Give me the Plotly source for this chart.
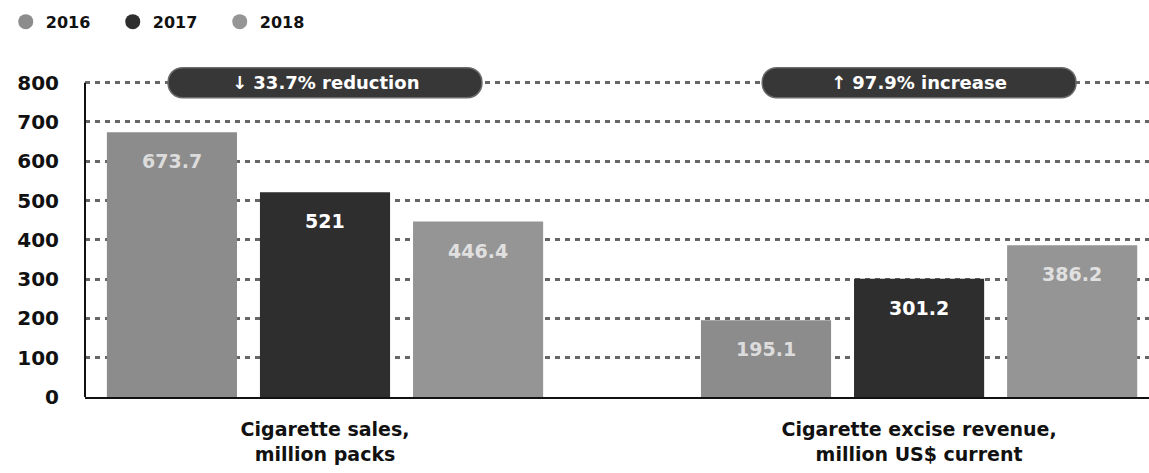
import plotly.graph_objects as go

# Data
categories = ["Cigarette sales,<br>million packs", "Cigarette excise revenue,<br>million US$ current"]
years = ["2016", "2017", "2018"]
values_2016 = [673.7, 195.1]
values_2017 = [521, 301.2]
values_2018 = [446.4, 386.2]
change_labels = ["\u2193 33.7% reduction", "\u2191 97.9% increase"]
y_ticks = [0, 100, 200, 300, 400, 500, 600, 700, 800]

series = [values_2016, values_2017, values_2018]
bar_colors = ["#8c8c8c", "#2e2e2e", "#959595"]
label_colors = ["#dcdcdc", "#ffffff", "#e0e0e0"]
FONT = "DejaVu Sans"

BARGAP = 0.227
GROUPGAP = 0.15
slot = (1 - BARGAP) / len(years)
Y_TOP = y_ticks[-1] + 50  # headroom for the badges

fig = go.Figure()

for yr, vals, col in zip(years, series, bar_colors):
    fig.add_trace(go.Bar(
        x=categories, y=vals, name=yr, marker=dict(color=col, line=dict(width=0)),
        showlegend=False, hoverinfo="skip",
    ))
    # legend entry drawn as a round marker
    fig.add_trace(go.Scatter(
        x=[None], y=[None], mode="markers", name=yr,
        marker=dict(size=15, color=col, symbol="circle"),
    ))

annotations = []
# value labels placed inside the top of each bar
for i, (vals, lc) in enumerate(zip(series, label_colors)):
    offset = (i - 1) * slot
    for c, v in enumerate(vals):
        annotations.append(dict(
            x=c + offset, y=v, xref="x", yref="y", text=f"{v:g}",
            showarrow=False, yanchor="middle", yshift=-29,
            font=dict(family=FONT, size=19, color=lc, weight="bold"),
        ))

shapes = [
    # vertical axis line from 0 to the top tick only
    dict(type="line", xref="paper", yref="y", x0=0, x1=0, y0=0, y1=y_ticks[-1],
         line=dict(color="#111111", width=2), layer="above"),
]
# dark rounded badges with the change between 2016 and 2018
half_w, r = 157, 15
for c, txt in enumerate(change_labels):
    path = (f"M {-half_w + r},{-r} L {half_w - r},{-r} "
            f"C {half_w - r + 1.33 * r},{-r} {half_w - r + 1.33 * r},{r} {half_w - r},{r} "
            f"L {-half_w + r},{r} "
            f"C {-half_w + r - 1.33 * r},{r} {-half_w + r - 1.33 * r},{-r} {-half_w + r},{-r} Z")
    shapes.append(dict(
        type="path", xref="x", yref="y", xsizemode="pixel", ysizemode="pixel",
        xanchor=c, yanchor=y_ticks[-1], path=path,
        fillcolor="#373737", line=dict(color="#6a6a6a", width=1.5), layer="above",
    ))
    annotations.append(dict(
        x=c, y=y_ticks[-1], xref="x", yref="y", text=txt, showarrow=False,
        font=dict(family=FONT, size=18, color="#ffffff", weight="bold"),
    ))

fig.update_layout(
    width=1149, height=473,
    margin=dict(l=85, r=0, t=63, b=76, autoexpand=False),
    paper_bgcolor="#ffffff", plot_bgcolor="#ffffff",
    barmode="group", bargap=BARGAP, bargroupgap=GROUPGAP,
    font=dict(family=FONT, color="#111111"),
    showlegend=True,
    legend=dict(
        orientation="h", xref="container", yref="container", x=0.005, y=0.99,
        xanchor="left", yanchor="top", entrywidth=62, entrywidthmode="pixels",
        font=dict(family=FONT, size=16, color="#111111", weight="bold"),
        bgcolor="rgba(0,0,0,0)",
    ),
    annotations=annotations,
    shapes=shapes,
)

fig.update_xaxes(
    type="category", range=[-0.404, 1.387], showgrid=False,
    showline=True, linecolor="#111111", linewidth=2,
    tickfont=dict(family=FONT, size=19, color="#111111", weight="bold"),
    ticklabelstandoff=14, ticks="", fixedrange=True,
)
fig.update_yaxes(
    range=[0, Y_TOP], tickvals=y_ticks,
    showgrid=True, gridcolor="#666666", gridwidth=2.5, griddash="5px,5px",
    zeroline=False, showline=False,
    tickfont=dict(family=FONT, size=20, color="#111111", weight="bold"),
    ticklabelstandoff=25, ticks="", fixedrange=True,
)

fig.write_html("out.html")
